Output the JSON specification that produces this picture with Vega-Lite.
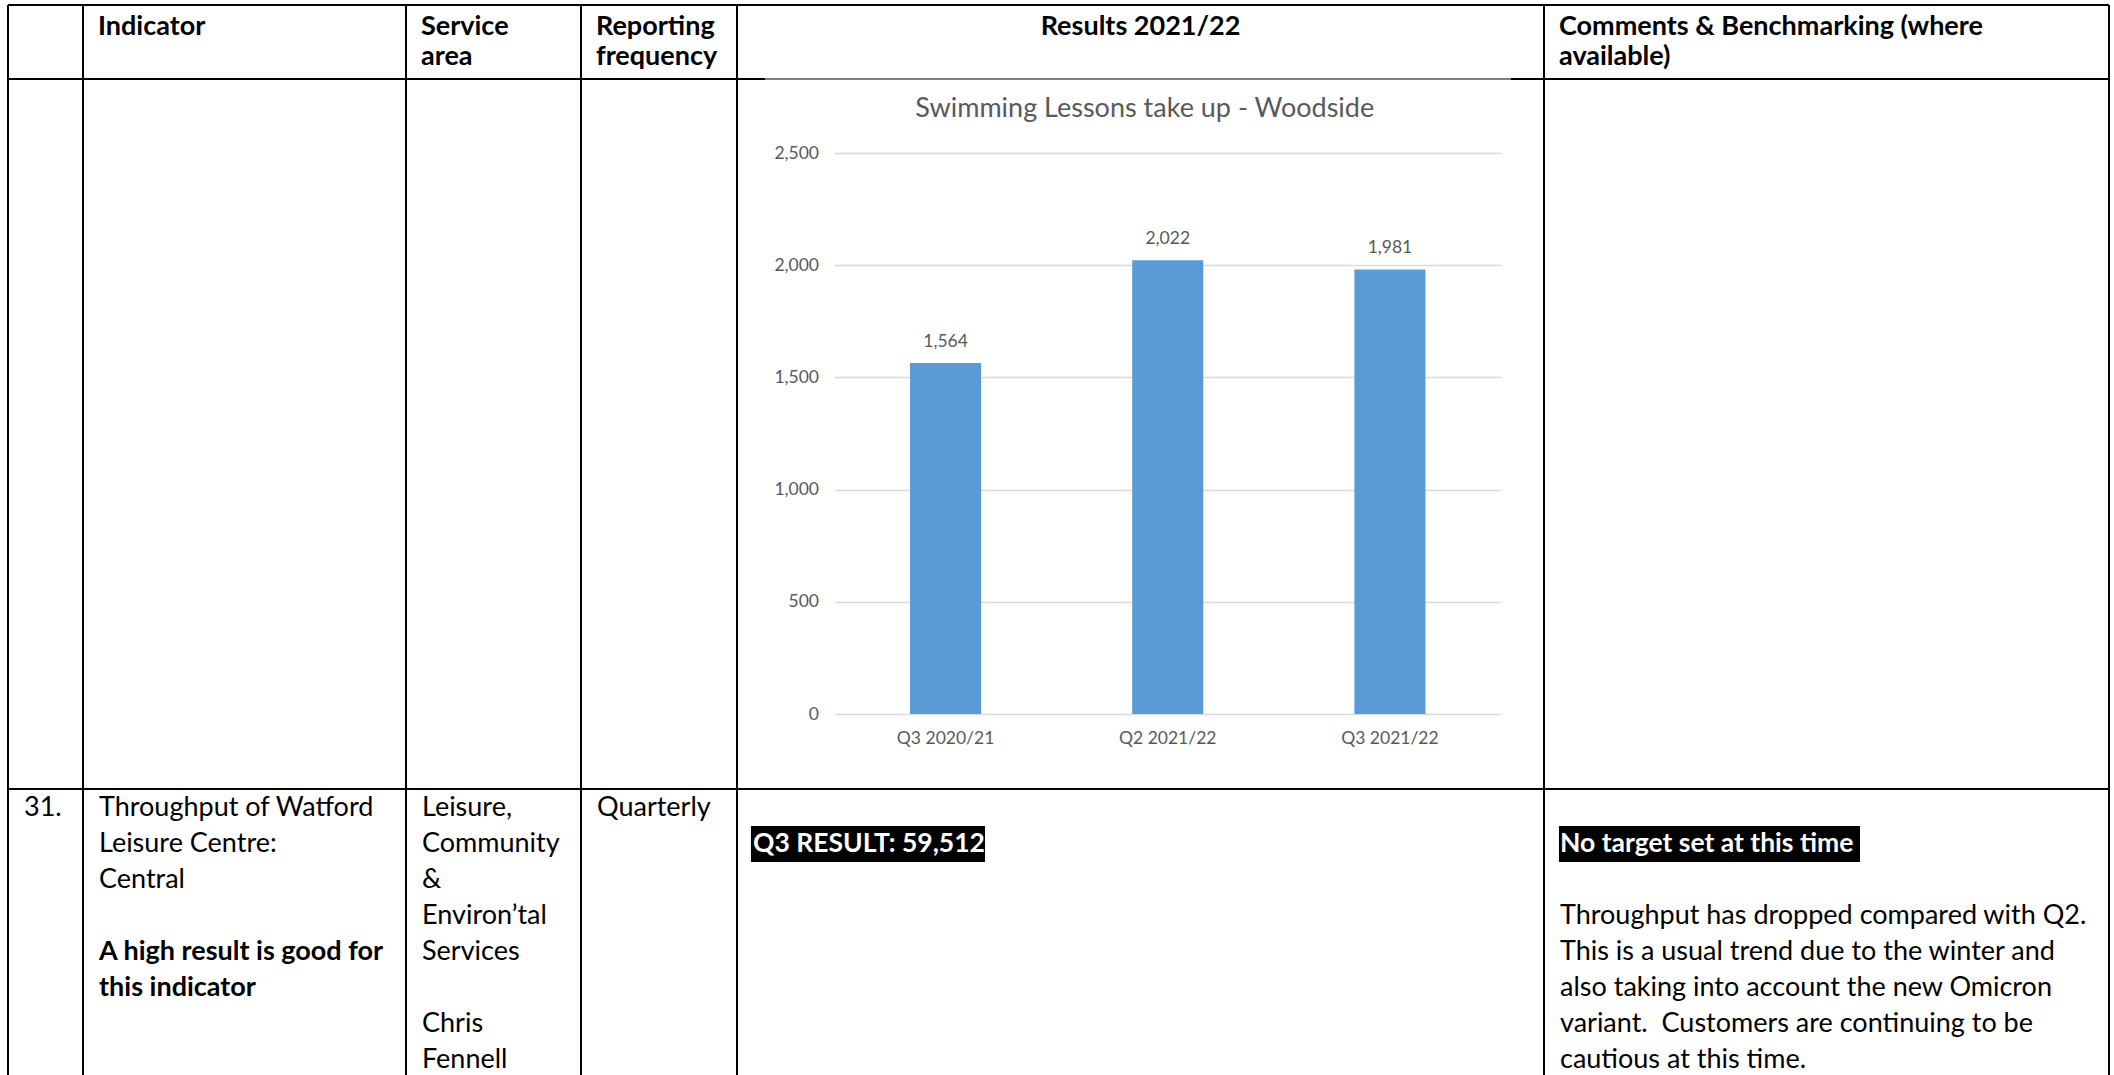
{
  "$schema": "https://vega.github.io/schema/vega-lite/v6.json",
  "width": 2114,
  "height": 1075,
  "padding": 0,
  "autosize": {"type": "none"},
  "background": "white",
  "config": {"view": {"stroke": null}, "font": "Lato"},
  "datasets": {
    "quarters": [
      {"quarter": "Q3 2020/21", "lessons": 1564},
      {"quarter": "Q2 2021/22", "lessons": 2022},
      {"quarter": "Q3 2021/22", "lessons": 1981}
    ],
    "chartTitle": [
      {"title": "Swimming Lessons take up - Woodside"}
    ],
    "borders": [
      {"kind": "border", "c1": 0, "c2": 0, "e1": 0, "e2": 3},
      {"kind": "border", "c1": 1, "c2": 1, "e1": 0, "e2": 3},
      {"kind": "border", "c1": 2, "c2": 2, "e1": 0, "e2": 3},
      {"kind": "border", "c1": 3, "c2": 3, "e1": 0, "e2": 3},
      {"kind": "border", "c1": 4, "c2": 4, "e1": 0, "e2": 3},
      {"kind": "border", "c1": 5, "c2": 5, "e1": 0, "e2": 3},
      {"kind": "border", "c1": 6, "c2": 6, "e1": 0, "e2": 3},
      {"kind": "border", "c1": 0, "c2": 6, "e1": 0, "e2": 0},
      {"kind": "border", "c1": 0, "c2": 4.0347, "e1": 1, "e2": 1},
      {"kind": "border", "c1": 4.959, "c2": 6, "e1": 1, "e2": 1},
      {"kind": "imageEdge", "c1": 4.0347, "c2": 4.959, "e1": 1, "e2": 1},
      {"kind": "border", "c1": 0, "c2": 6, "e1": 2, "e2": 2}
    ],
    "highlights": [
      {"c1": 4.0173, "c2": 4.3073, "line": 3},
      {"c1": 5.0265, "c2": 5.5593, "line": 3}
    ],
    "cells": [
      {"col": 1, "line": 0, "role": "head", "text": "Indicator"},
      {"col": 2, "line": 0, "role": "head", "text": "Service"},
      {"col": 2, "line": 1, "role": "head", "text": "area"},
      {"col": 3, "line": 0, "role": "head", "text": "Reporting"},
      {"col": 3, "line": 1, "role": "head", "text": "frequency"},
      {"col": 4.5, "line": 0, "role": "headCentre", "text": "Results 2021/22"},
      {"col": 5, "line": 0, "role": "head", "text": "Comments & Benchmarking (where"},
      {"col": 5, "line": 1, "role": "head", "text": "available)"},
      {"col": 0, "line": 2, "role": "body", "text": "31."},
      {"col": 1, "line": 2, "role": "body", "text": "Throughput of Watford"},
      {"col": 1, "line": 3, "role": "body", "text": "Leisure Centre:"},
      {"col": 1, "line": 4, "role": "body", "text": "Central"},
      {"col": 1, "line": 6, "role": "emphasis", "text": "A high result is good for"},
      {"col": 1, "line": 7, "role": "emphasis", "text": "this indicator"},
      {"col": 2, "line": 2, "role": "body", "text": "Leisure,"},
      {"col": 2, "line": 3, "role": "body", "text": "Community"},
      {"col": 2, "line": 4, "role": "body", "text": "&"},
      {"col": 2, "line": 5, "role": "body", "text": "Environ’tal"},
      {"col": 2, "line": 6, "role": "body", "text": "Services"},
      {"col": 2, "line": 8, "role": "body", "text": "Chris"},
      {"col": 2, "line": 9, "role": "body", "text": "Fennell"},
      {"col": 3, "line": 2, "role": "body", "text": "Quarterly"},
      {"col": 4, "line": 3, "role": "highlight", "text": "Q3 RESULT: 59,512"},
      {"col": 5, "line": 3, "role": "highlight", "text": "No target set at this time"},
      {"col": 5, "line": 5, "role": "body", "text": "Throughput has dropped compared with Q2."},
      {"col": 5, "line": 6, "role": "body", "text": "This is a usual trend due to the winter and"},
      {"col": 5, "line": 7, "role": "body", "text": "also taking into account the new Omicron"},
      {"col": 5, "line": 8, "role": "body", "text": "variant. \u00a0Customers are continuing to be"},
      {"col": 5, "line": 9, "role": "body", "text": "cautious at this time."}
    ]
  },
  "layer": [
    {
      "data": {"name": "borders"},
      "layer": [
        {
          "transform": [{"filter": "datum.kind === 'border'"}],
          "mark": {"type": "rule", "stroke": "#000000", "strokeWidth": 2},
          "encoding": {
            "x": {"field": "c1", "type": "quantitative", "axis": null,
                  "scale": {"type": "linear", "domain": [0, 1, 2, 3, 4, 5, 6], "range": [8, 83, 406, 581, 737, 1544, 2109], "nice": false, "zero": false}},
            "x2": {"field": "c2"},
            "y": {"field": "e1", "type": "quantitative", "axis": null,
                  "scale": {"type": "linear", "domain": [0, 1, 2, 3], "range": [5, 79, 789, 1076], "nice": false, "zero": false}},
            "y2": {"field": "e2"}
          }
        },
        {
          "transform": [{"filter": "datum.kind === 'imageEdge'"}],
          "mark": {"type": "rule", "stroke": "#000000", "strokeWidth": 1},
          "encoding": {
            "x": {"field": "c1", "type": "quantitative", "axis": null,
                  "scale": {"type": "linear", "domain": [0, 1, 2, 3, 4, 5, 6], "range": [8, 83, 406, 581, 737, 1544, 2109], "nice": false, "zero": false}},
            "x2": {"field": "c2"},
            "y": {"field": "e1", "type": "quantitative", "axis": null,
                  "scale": {"type": "linear", "domain": [0, 1, 2, 3], "range": [5, 79, 789, 1076], "nice": false, "zero": false}},
            "y2": {"field": "e2"}
          }
        }
      ]
    },
    {
      "layer": [
        {
          "data": {"name": "highlights"},
          "mark": {"type": "rule", "stroke": "#000000", "strokeWidth": 36, "strokeCap": "butt"},
          "encoding": {
            "x": {"field": "c1", "type": "quantitative", "axis": null,
                  "scale": {"type": "linear", "domain": [0, 1, 2, 3, 4, 5, 6], "range": [8, 83, 406, 581, 737, 1544, 2109], "nice": false, "zero": false}},
            "x2": {"field": "c2"},
            "y": {"field": "line", "type": "quantitative", "axis": null,
                  "scale": {"type": "linear", "domain": [0, 1, 2, 9], "range": [27, 57, 808, 1060], "nice": false, "zero": false}}
          }
        },
        {
          "data": {"name": "cells"},
          "transform": [{"filter": "datum.role === 'head'"}],
          "mark": {"type": "text", "align": "left", "baseline": "middle", "dx": 15, "font": "Lato", "fontSize": 27, "fontWeight": "bold", "fill": "#000000"},
          "encoding": {
            "x": {"field": "col", "type": "quantitative", "axis": null,
                  "scale": {"type": "linear", "domain": [0, 1, 2, 3, 4, 5, 6], "range": [8, 83, 406, 581, 737, 1544, 2109], "nice": false, "zero": false}},
            "y": {"field": "line", "type": "quantitative", "axis": null,
                  "scale": {"type": "linear", "domain": [0, 1, 2, 9], "range": [27, 57, 808, 1060], "nice": false, "zero": false}},
            "text": {"field": "text"}
          }
        },
        {
          "data": {"name": "cells"},
          "transform": [{"filter": "datum.role === 'headCentre'"}],
          "mark": {"type": "text", "align": "center", "baseline": "middle", "font": "Lato", "fontSize": 27, "fontWeight": "bold", "fill": "#000000"},
          "encoding": {
            "x": {"field": "col", "type": "quantitative", "axis": null,
                  "scale": {"type": "linear", "domain": [0, 1, 2, 3, 4, 5, 6], "range": [8, 83, 406, 581, 737, 1544, 2109], "nice": false, "zero": false}},
            "y": {"field": "line", "type": "quantitative", "axis": null,
                  "scale": {"type": "linear", "domain": [0, 1, 2, 9], "range": [27, 57, 808, 1060], "nice": false, "zero": false}},
            "text": {"field": "text"}
          }
        },
        {
          "data": {"name": "cells"},
          "transform": [{"filter": "datum.role === 'body'"}],
          "mark": {"type": "text", "align": "left", "baseline": "middle", "dx": 16, "font": "Lato", "fontSize": 27, "fill": "#000000"},
          "encoding": {
            "x": {"field": "col", "type": "quantitative", "axis": null,
                  "scale": {"type": "linear", "domain": [0, 1, 2, 3, 4, 5, 6], "range": [8, 83, 406, 581, 737, 1544, 2109], "nice": false, "zero": false}},
            "y": {"field": "line", "type": "quantitative", "axis": null,
                  "scale": {"type": "linear", "domain": [0, 1, 2, 9], "range": [27, 57, 808, 1060], "nice": false, "zero": false}},
            "text": {"field": "text"}
          }
        },
        {
          "data": {"name": "cells"},
          "transform": [{"filter": "datum.role === 'emphasis'"}],
          "mark": {"type": "text", "align": "left", "baseline": "middle", "dx": 16, "font": "Lato", "fontSize": 27, "fontWeight": "bold", "fill": "#000000"},
          "encoding": {
            "x": {"field": "col", "type": "quantitative", "axis": null,
                  "scale": {"type": "linear", "domain": [0, 1, 2, 3, 4, 5, 6], "range": [8, 83, 406, 581, 737, 1544, 2109], "nice": false, "zero": false}},
            "y": {"field": "line", "type": "quantitative", "axis": null,
                  "scale": {"type": "linear", "domain": [0, 1, 2, 9], "range": [27, 57, 808, 1060], "nice": false, "zero": false}},
            "text": {"field": "text"}
          }
        },
        {
          "data": {"name": "cells"},
          "transform": [{"filter": "datum.role === 'highlight'"}],
          "mark": {"type": "text", "align": "left", "baseline": "middle", "dx": 16, "font": "Lato", "fontSize": 26.5, "fontWeight": "bold", "fill": "#ffffff"},
          "encoding": {
            "x": {"field": "col", "type": "quantitative", "axis": null,
                  "scale": {"type": "linear", "domain": [0, 1, 2, 3, 4, 5, 6], "range": [8, 83, 406, 581, 737, 1544, 2109], "nice": false, "zero": false}},
            "y": {"field": "line", "type": "quantitative", "axis": null,
                  "scale": {"type": "linear", "domain": [0, 1, 2, 9], "range": [27, 57, 808, 1060], "nice": false, "zero": false}},
            "text": {"field": "text"}
          }
        }
      ]
    },
    {
      "data": {"name": "quarters"},
      "layer": [
        {
          "mark": {"type": "bar", "color": "#5B9BD5", "width": {"band": 0.32}},
          "encoding": {
            "x": {
              "field": "quarter", "type": "nominal", "sort": null,
              "scale": {"type": "band", "domain": ["Q3 2020/21", "Q2 2021/22", "Q3 2021/22"], "range": [834.5, 1501], "paddingInner": 0, "paddingOuter": 0},
              "axis": {"orient": "bottom", "offset": -361, "title": null, "domain": false, "ticks": false, "grid": false, "labelAngle": 0, "labelPadding": 15, "labelFont": "Lato", "labelFontSize": 17.5, "labelColor": "#595959"}
            },
            "y": {
              "field": "lessons", "type": "quantitative",
              "scale": {"domain": [0, 2500], "range": [714, 153], "nice": false, "zero": true},
              "axis": {"orient": "left", "offset": -834.5, "title": null, "values": [0, 500, 1000, 1500, 2000, 2500], "format": ",.0f", "domain": false, "ticks": false, "labelPadding": 16, "labelFont": "Lato", "labelFontSize": 17.5, "labelColor": "#595959", "grid": true, "gridColor": "#d9d9d9", "gridWidth": 1.5}
            }
          }
        },
        {
          "mark": {"type": "text", "baseline": "middle", "align": "center", "dy": -21, "font": "Lato", "fontSize": 17.5, "fill": "#595959"},
          "encoding": {
            "x": {"field": "quarter", "type": "nominal", "sort": null},
            "y": {"field": "lessons", "type": "quantitative"},
            "text": {"field": "lessons", "type": "quantitative", "format": ","}
          }
        },
        {
          "data": {"name": "chartTitle"},
          "mark": {"type": "text", "baseline": "middle", "align": "center", "dx": -23, "dy": -44, "font": "Lato", "fontSize": 27, "fill": "#595959"},
          "encoding": {
            "x": {"datum": "Q2 2021/22"},
            "y": {"datum": 2500},
            "text": {"field": "title"}
          }
        }
      ]
    }
  ],
  "resolve": {
    "scale": {"x": "independent", "y": "independent"},
    "axis": {"x": "independent", "y": "independent"}
  }
}
